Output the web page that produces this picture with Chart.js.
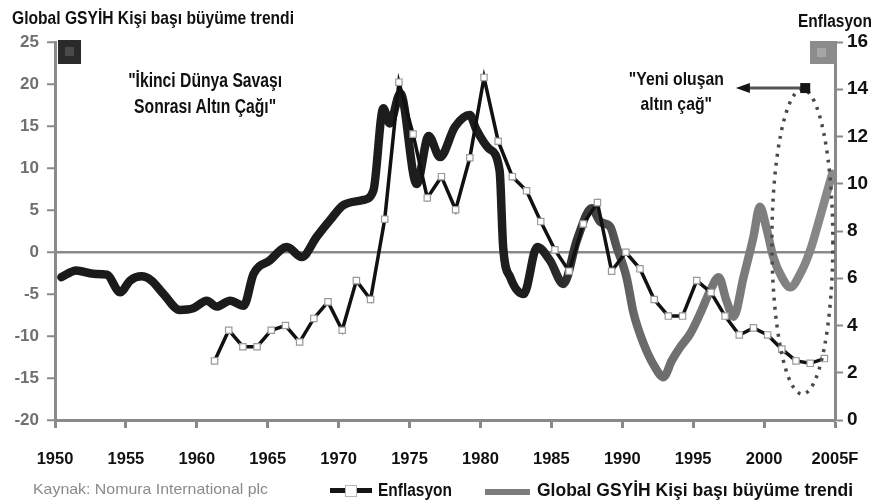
<!DOCTYPE html>
<html lang="tr">
<head>
<meta charset="utf-8">
<title>Global GSYİH Kişi başı büyüme trendi ve Enflasyon</title>
<script src="https://cdn.jsdelivr.net/npm/chart.js@4.4.1/dist/chart.umd.min.js"></script>
<style>
  html, body { margin: 0; padding: 0; background: #fff; }
  #wrap { position: relative; width: 878px; height: 504px; overflow: hidden; }
  #chart { position: absolute; left: 0; top: 0; }
  .t {
    position: absolute; white-space: nowrap; line-height: 1; color: #111;
    font-family: "Liberation Sans", Arial, sans-serif;
    font-weight: bold;
  }
  .fit { display: inline-block; transform-origin: 0 0; }
  .ann { text-align: center; }
  .src { font-weight: normal; color: #8a8a8a; filter: blur(0.7px); }
  .ico { position: absolute; }
</style>
</head>
<body>
<div id="wrap">
  <canvas id="chart" width="878" height="504"></canvas>

  <div class="t" style="left:12px; top:8px; font-size:19px;"><span class="fit" data-w="282">Global GSYİH Kişi başı büyüme trendi</span></div>
  <div class="t" style="left:798px; top:12px; font-size:18px;"><span class="fit" data-w="74">Enflasyon</span></div>

  <div class="t ann" style="left:105px; width:200px; top:67px; font-size:20px; line-height:26px;">
    <span class="fit" data-w="154" style="transform-origin:50% 0;">"İkinci Dünya Savaşı<br>Sonrası Altın Çağı"</span>
  </div>
  <div class="t ann" style="left:576px; width:200px; top:66px; font-size:19px; line-height:25px;">
    <span class="fit" data-w="95" style="transform-origin:50% 0;">"Yeni oluşan<br>altın çağ"</span>
  </div>

  <div class="t src" style="left:33px; top:481px; font-size:15px;"><span class="fit" data-w="235">Kaynak: Nomura International plc</span></div>

  <div class="ico" style="left:330px; top:488px; width:42px; height:5px; background:#151515;"></div>
  <div class="ico" style="left:345px; top:485px; width:10px; height:10px; background:#fff; border:1px solid #b5b5b5;"></div>
  <div class="t" style="left:378px; top:481px; font-size:18px;"><span class="fit" data-w="74">Enflasyon</span></div>

  <div class="ico" style="left:485px; top:489px; width:45px; height:6px; background:#7d7d7d;"></div>
  <div class="t" style="left:537px; top:480px; font-size:19px;"><span class="fit" data-w="316">Global GSYİH Kişi başı büyüme trendi</span></div>
</div>

<script>
// Inflation (right axis, %), one value per year
const inflationYears = [1961, 1962, 1963, 1964, 1965, 1966, 1967, 1968, 1969, 1970,
  1971, 1972, 1973, 1974, 1975, 1976, 1977, 1978, 1979, 1980,
  1981, 1982, 1983, 1984, 1985, 1986, 1987, 1988, 1989, 1990,
  1991, 1992, 1993, 1994, 1995, 1996, 1997, 1998, 1999, 2000,
  2001, 2002, 2003, 2004];
const inflation = [2.5, 3.8, 3.1, 3.1, 3.8, 4.0, 3.3, 4.3, 5.0, 3.8,
  5.9, 5.1, 8.5, 14.3, 12.1, 9.4, 10.3, 8.9, 11.1, 14.5,
  11.8, 10.3, 9.7, 8.4, 7.2, 6.3, 8.3, 9.2, 6.3, 7.1,
  6.4, 5.1, 4.4, 4.4, 5.9, 5.4, 4.4, 3.6, 3.9, 3.6,
  3.0, 2.5, 2.4, 2.6];

// Global GDP per capita growth trend (left axis), read at the turning points
const gdpYears = [1950.45, 1951.5, 1952.7, 1953.65, 1954.6, 1955.3, 1956.1, 1956.8, 1957.65, 1958.8,
  1959.75, 1960.7, 1961.4, 1962.35, 1963.3, 1964.0, 1965.15, 1966.35, 1967.4, 1968.45,
  1969.4, 1970.35, 1971.75, 1972.45, 1973.15, 1973.6, 1974.35, 1975.5, 1976.35, 1977.15,
  1978.2, 1979.25, 1979.7, 1980.6, 1981.35, 1981.6, 1982.1, 1983.05, 1984.0, 1984.9,
  1985.85, 1986.8, 1987.85, 1988.45, 1989.15, 1989.6, 1990.3, 1990.8, 1991.5, 1992.3,
  1992.9, 1993.5, 1994.1, 1994.8, 1995.5, 1996.2, 1996.8, 1997.35, 1997.85, 1998.55,
  1999.25, 1999.7, 2000.2, 2000.65, 2001.25, 2001.85, 2002.55, 2003.25, 2003.95, 2004.8];
const gdpGrowth = [-3.0, -2.2, -2.6, -2.7, -4.8, -3.4, -2.9, -3.4, -5.0, -6.9,
  -6.7, -5.8, -6.5, -5.8, -6.4, -2.6, -1.0, 0.6, -0.6, 1.8,
  3.8, 5.6, 6.2, 7.3, 17.1, 15.3, 18.9, 8.1, 13.8, 11.3,
  14.9, 16.3, 14.6, 12.3, 9.7, 0.6, -3.0, -5.0, 0.6, -1.0,
  -3.8, 1.4, 5.2, 3.6, 3.0, 0.6, -3.0, -7.3, -10.9, -13.7,
  -14.9, -12.9, -11.3, -9.7, -7.3, -4.6, -3.0, -5.8, -7.7, -3.0,
  1.8, 5.4, 2.6, -0.6, -3.0, -4.2, -2.6, 0.2, 4.2, 9.3];

// Axis ticks
const xTickYears = [1950, 1955, 1960, 1965, 1970, 1975, 1980, 1985, 1990, 1995, 2000, 2005];
const xTickLabels = ['1950', '1955', '1960', '1965', '1970', '1975', '1980', '1985', '1990', '1995', '2000', '2005F'];

// "Yeni oluşan altın çağ" marker: dotted ellipse and arrow (x in years, y on inflation axis)
const goldenEllipse = { x: 2002.7, y: 7.55, rx: 2.15, ry: 6.45 };
const goldenArrow = { from: 2002.9, to: 1998.15, y: 14.05 };

const AXIS_GREY = '#8a8a8a';
const SANS = '"Liberation Sans", Arial, sans-serif';

// squeeze the overlay texts to the widths measured on the picture (narrow face look)
document.querySelectorAll('.fit').forEach((el) => {
  const target = parseFloat(el.getAttribute('data-w'));
  const w = el.getBoundingClientRect().width;
  if (!w || !target) return;
  el.style.transform = `scaleX(${target / w})`;
});

function gdpColor(ctx) {
  const chart = ctx.chart;
  const { chartArea, scales } = chart;
  if (!chartArea || !scales.x) return '#1c1c1c';
  const x0 = scales.x.getPixelForValue(1950);
  const x1 = scales.x.getPixelForValue(2005);
  const g = chart.ctx.createLinearGradient(x0, 0, x1, 0);
  const at = (yr) => (yr - 1950) / 55;
  g.addColorStop(0, '#1a1a1a');
  g.addColorStop(at(1984), '#1e1e1e');
  g.addColorStop(at(1988), '#404040');
  g.addColorStop(at(1991), '#696969');
  g.addColorStop(1, '#8a8a8a');
  return g;
}

const decorations = {
  id: 'decorations',
  afterDatasetsDraw(chart) {
    const { ctx, chartArea, scales } = chart;
    const x = scales.x, y1 = scales.y1;

    // dotted ellipse
    ctx.save();
    ctx.strokeStyle = '#4a4a4a';
    ctx.lineWidth = 3.5;
    ctx.setLineDash([3, 6]);
    ctx.beginPath();
    const cx = x.getPixelForValue(goldenEllipse.x);
    const cy = y1.getPixelForValue(goldenEllipse.y);
    const rx = x.getPixelForValue(goldenEllipse.x + goldenEllipse.rx) - cx;
    const ry = cy - y1.getPixelForValue(goldenEllipse.y + goldenEllipse.ry);
    ctx.ellipse(cx, cy, rx, ry, 0, 0, Math.PI * 2);
    ctx.stroke();
    ctx.restore();

    // arrow pointing left
    ctx.save();
    const ax0 = x.getPixelForValue(goldenArrow.from);
    const ax1 = x.getPixelForValue(goldenArrow.to);
    const ay = y1.getPixelForValue(goldenArrow.y);
    ctx.strokeStyle = '#555';
    ctx.lineWidth = 3;
    ctx.beginPath();
    ctx.moveTo(ax0, ay);
    ctx.lineTo(ax1 + 8, ay);
    ctx.stroke();
    ctx.fillStyle = '#151515';
    ctx.beginPath();
    ctx.moveTo(ax1 - 2, ay);
    ctx.lineTo(ax1 + 12, ay - 5);
    ctx.lineTo(ax1 + 12, ay + 5);
    ctx.closePath();
    ctx.fill();
    ctx.fillRect(ax0 - 5, ay - 5, 10, 10);
    ctx.restore();

    // series keys at the top of both axes
    ctx.save();
    ctx.fillStyle = '#2a2a2a';
    ctx.fillRect(chartArea.left + 3, chartArea.top - 2, 23, 24);
    ctx.fillStyle = '#4a4a4a';
    ctx.fillRect(chartArea.left + 10, chartArea.top + 5, 9, 9);
    ctx.fillStyle = '#8c8c8c';
    ctx.fillRect(chartArea.right - 25, chartArea.top - 1, 24, 23);
    ctx.fillStyle = '#a6a6a6';
    ctx.fillRect(chartArea.right - 18, chartArea.top + 6, 9, 9);
    ctx.restore();
  }
};

new Chart(document.getElementById('chart'), {
  type: 'line',
  data: {
    datasets: [
      {
        label: 'Enflasyon',
        data: inflationYears.map((yr, i) => ({ x: yr + 0.25, y: inflation[i] })),
        yAxisID: 'y1',
        borderColor: '#111',
        borderWidth: 3.5,
        tension: 0,
        pointStyle: 'rect',
        pointRadius: 4.5,
        pointBackgroundColor: '#fff',
        pointBorderColor: '#9a9a9a',
        pointBorderWidth: 1.2,
        order: 1
      },
      {
        label: 'Global GSYİH Kişi başı büyüme trendi',
        data: gdpYears.map((yr, i) => ({ x: yr, y: gdpGrowth[i] })),
        yAxisID: 'y',
        borderColor: gdpColor,
        borderWidth: 8.5,
        pointRadius: 0,
        cubicInterpolationMode: 'monotone',
        borderCapStyle: 'round',
        borderJoinStyle: 'round',
        order: 2
      }
    ]
  },
  options: {
    responsive: false,
    animation: false,
    layout: { padding: { top: 42, left: 0, right: 0, bottom: 0 } },
    plugins: { legend: { display: false }, tooltip: { enabled: false } },
    scales: {
      x: {
        type: 'linear',
        min: 1950,
        max: 2005,
        afterFit: (s) => { s.height = 84; s.paddingLeft = 0; s.paddingRight = 0; },
        afterBuildTicks: (s) => { s.ticks = xTickYears.map((v) => ({ value: v })); },
        grid: { drawOnChartArea: false, drawTicks: true, tickLength: 8, tickColor: AXIS_GREY, tickWidth: 3 },
        border: { display: true, color: AXIS_GREY, width: 3 },
        ticks: {
          padding: 22,
          maxRotation: 0,
          autoSkip: false,
          color: '#111',
          font: { family: SANS, size: 16.5, weight: 'bold' },
          callback: (v, i) => xTickLabels[i]
        }
      },
      y: {
        position: 'left',
        min: -20,
        max: 25,
        afterFit: (s) => { s.width = 55; },
        grid: {
          drawOnChartArea: true,
          color: (c) => (c.tick && c.tick.value === 0 ? AXIS_GREY : 'rgba(0,0,0,0)'),
          lineWidth: 2.5,
          tickColor: AXIS_GREY,
          tickWidth: 2,
          tickLength: 8
        },
        border: { display: true, color: AXIS_GREY, width: 3 },
        ticks: {
          stepSize: 5,
          padding: 8,
          color: '#707070',
          font: { family: SANS, size: 17, weight: 'bold' }
        }
      },
      y1: {
        position: 'right',
        min: 0,
        max: 16,
        afterFit: (s) => { s.width = 43; },
        grid: { drawOnChartArea: false, tickColor: AXIS_GREY, tickWidth: 2, tickLength: 8 },
        border: { display: true, color: AXIS_GREY, width: 3 },
        ticks: {
          stepSize: 2,
          padding: 4,
          color: '#111',
          font: { family: SANS, size: 19, weight: 'bold' }
        }
      }
    }
  },
  plugins: [decorations]
});
</script>
</body>
</html>
